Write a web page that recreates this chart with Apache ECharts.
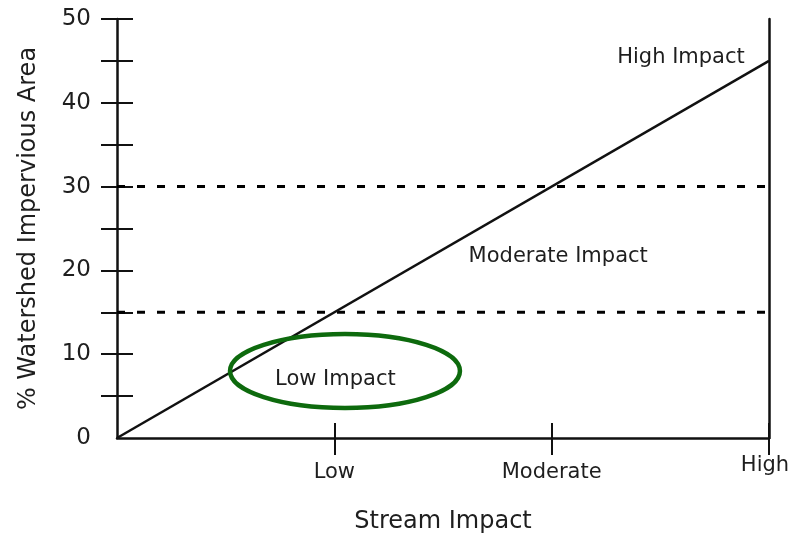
<!DOCTYPE html>
<html>
<head>
<meta charset="utf-8">
<script src="https://cdn.jsdelivr.net/npm/echarts@6/dist/echarts.min.js"></script>
<style>html,body{margin:0;padding:0;background:#fff}#c{width:793px;height:533px}</style>
</head>
<body>
<div id="c"></div>
<script>
// ---- data ----
const xCategories = ['Low', 'Moderate', 'High'];
const xCategoryValues = [1, 2, 3];
const yLabelValues = [0, 10, 20, 30, 40, 50];
const yTickValues = [5, 10, 15, 20, 25, 30, 35, 40, 45, 50];
const impactLineX = [0, 3];
const impactLineY = [0, 45];
const thresholds = [15, 30];
const regionNames = ['High Impact', 'Moderate Impact', 'Low Impact'];
const regionX = [2.595, 2.03, 1.005];
const regionY = [45.4, 21.6, 7.0];
const ellipseCenter = [1.049, 8.0];
const ellipseRadii = [0.529, 4.42];

const FONT = 'DejaVu Sans';
const INK = '#111';

const chart = echarts.init(document.getElementById('c'), null, {renderer: 'canvas'});

const yBase = {
  type: 'value', min: 0, max: 50, position: 'left',
  splitLine: {show: false}
};
const xBase = {
  type: 'value', min: 0, max: 3, interval: 1, position: 'bottom',
  splitLine: {show: false}
};

const series = [
  {
    type: 'line', name: 'impact', xAxisIndex: 0, yAxisIndex: 0,
    data: impactLineX.map((x, i) => [x, impactLineY[i]]),
    symbol: 'none', lineStyle: {color: INK, width: 2.5}, silent: true, z: 5
  }
];
thresholds.forEach(t => {
  series.push({
    type: 'line', xAxisIndex: 0, yAxisIndex: 0,
    data: [[0, t], [3, t]],
    symbol: 'none', silent: true, z: 4,
    lineStyle: {color: '#000', width: 3, type: [8, 12]}
  });
});
series.push({
  type: 'scatter', xAxisIndex: 0, yAxisIndex: 0, silent: true, symbolSize: 0,
  itemStyle: {opacity: 1},
  data: regionNames.map((n, i) => ({name: n, value: [regionX[i], regionY[i]]})),
  label: {
    show: true, position: 'inside', formatter: p => p.name, opacity: 1,
    fontFamily: FONT, fontSize: 21, color: '#1e1e1e'
  },
  z: 6
});
series.push({
  type: 'custom', xAxisIndex: 0, yAxisIndex: 0, silent: true, z: 7,
  data: [[ellipseCenter[0], ellipseCenter[1], ellipseRadii[0], ellipseRadii[1]]],
  renderItem: function (params, api) {
    const c = api.coord([api.value(0), api.value(1)]);
    const s = api.size([api.value(2), api.value(3)]);
    return {
      type: 'ellipse',
      shape: {cx: c[0], cy: c[1], rx: s[0], ry: s[1]},
      style: {fill: 'none', stroke: '#0d6a0d', lineWidth: 4.5}
    };
  }
});

chart.setOption({
  animation: false,
  backgroundColor: '#fff',
  grid: {left: 117, right: 24, top: 19, bottom: 95, containLabel: false, outerBoundsMode: 'none'},
  xAxis: [
    Object.assign({}, xBase, {
      name: 'Stream Impact', nameLocation: 'middle', nameGap: 72,
      nameTextStyle: {fontFamily: FONT, fontSize: 24, color: '#1e1e1e'},
      axisLine: {show: true, onZero: false, lineStyle: {color: INK, width: 2.5}},
      axisTick: {show: true, inside: false, length: 17, customValues: xCategoryValues,
        lineStyle: {color: INK, width: 2}},
      axisLabel: {
        show: true, margin: 23, customValues: xCategoryValues,
        formatter: v => {
          const i = xCategoryValues.indexOf(v);
          if (i < 0) return '';
          return i === xCategoryValues.length - 1 ? '{hi|' + xCategories[i] + '}' : '{n|' + xCategories[i] + '}';
        },
        rich: {
          n: {fontFamily: FONT, fontSize: 21, color: '#1e1e1e', lineHeight: 24},
          hi: {fontFamily: FONT, fontSize: 21, color: '#1e1e1e', lineHeight: 10, padding: [0, 8, 0, 0]}
        }
      }
    }),
    Object.assign({}, xBase, {
      axisLine: {show: false},
      axisTick: {show: true, inside: true, length: 15, customValues: xCategoryValues,
        lineStyle: {color: INK, width: 2}},
      axisLabel: {show: false}
    })
  ],
  yAxis: [
    Object.assign({}, yBase, {
      name: '% Watershed Impervious Area', nameLocation: 'middle', nameGap: 76,
      nameTextStyle: {fontFamily: FONT, fontSize: 24, color: '#1e1e1e'},
      axisLine: {show: true, onZero: false, lineStyle: {color: INK, width: 2.5}},
      axisTick: {show: true, inside: false, length: 16, customValues: yTickValues,
        lineStyle: {color: INK, width: 2}},
      axisLabel: {show: true, margin: 26, customValues: yLabelValues,
        fontFamily: FONT, fontSize: 23, color: '#1e1e1e'}
    }),
    Object.assign({}, yBase, {
      axisLine: {show: false},
      axisTick: {show: true, inside: true, length: 16, customValues: yTickValues,
        lineStyle: {color: INK, width: 2}},
      axisLabel: {show: false}
    }),
    Object.assign({}, yBase, {
      position: 'right',
      axisLine: {show: true, onZero: false, lineStyle: {color: INK, width: 2.5}},
      axisTick: {show: false},
      axisLabel: {show: false}
    })
  ],
  series: series
});
</script>
</body>
</html>
